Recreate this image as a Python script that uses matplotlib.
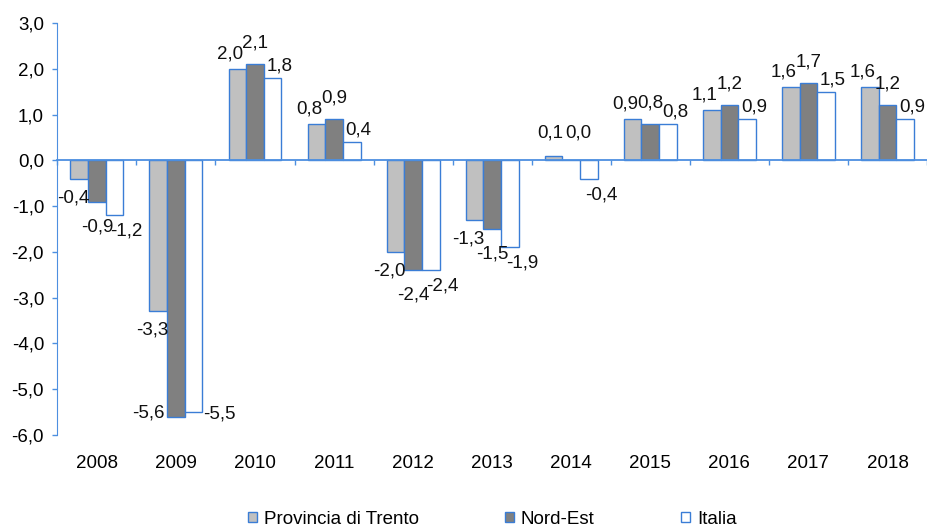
import numpy as np
import matplotlib
matplotlib.use('Agg')
import matplotlib.pyplot as plt
from matplotlib.transforms import blended_transform_factory

plt.rcParams['font.family'] = ['Liberation Sans', 'DejaVu Sans']
plt.rcParams['font.size'] = 13.5

years = ['2008', '2009', '2010', '2011', '2012', '2013', '2014', '2015', '2016', '2017', '2018']
series_names = ['Provincia di Trento', 'Nord-Est', 'Italia']
trento = [-0.4, -3.3, 2.0, 0.8, -2.0, -1.3, 0.1, 0.9, 1.1, 1.6, 1.6]
nord_est = [-0.9, -5.6, 2.1, 0.9, -2.4, -1.5, 0.0, 0.8, 1.2, 1.7, 1.2]
italia = [-1.2, -5.5, 1.8, 0.4, -2.4, -1.9, -0.4, 0.8, 0.9, 1.5, 0.9]
y_ticks = [-6, -5, -4, -3, -2, -1, 0, 1, 2, 3]

fills = ['#c0c0c0', '#808080', '#ffffff']
edge = '#3a7dd6'
axis_col = '#4d8fe0'

# label offsets in pixels (dx, dy) by series, for positive / negative bars
pos_off = [(-7, 15), (0, 21), (7, 12)]
neg_off = [(-6, -19), (0, -25), (12, -16)]
special = {(1, 1): (-28, 4), (1, 2): (26, -2), (6, 0): (-3, 23), (6, 1): (7, 27)}

fig = plt.figure(figsize=(9.27, 5.27), dpi=100)
ax = fig.add_axes([57.35 / 927, 1 - 435 / 527, 1 - 57.35 / 927, (435 - 23) / 527])

x = np.arange(len(years))
w = 0.223
all_vals = [trento, nord_est, italia]
for k, vals in enumerate(all_vals):
    ax.bar(x + (k - 1) * w, vals, w, color=fills[k], edgecolor=edge, linewidth=1.0,
           label=series_names[k], zorder=2)
    for i, v in enumerate(vals):
        dx, dy = pos_off[k] if v >= 0 else neg_off[k]
        if (i, k) in special:
            dx, dy = special[(i, k)]
        txt = ('%.1f' % v).replace('.', ',')
        ax.annotate(txt, (x[i] + (k - 1) * w, v), xytext=(dx, dy), textcoords='offset pixels',
                    ha='center', va='center', fontsize=13.5, color='#111111', zorder=3)

ax.set_xlim(-0.5, 10.467)
ax.set_ylim(-6, 3)
ax.set_yticks(y_ticks)
ax.set_yticklabels([('%.1f' % t).replace('.', ',') for t in y_ticks])
ax.tick_params(axis='y', length=3.6, width=1, color=axis_col, pad=6, labelsize=13.5)

for s in ['top', 'right']:
    ax.spines[s].set_visible(False)
ax.spines['left'].set_color(axis_col)
ax.spines['bottom'].set_color(axis_col)
ax.spines['bottom'].set_linewidth(1.3)
ax.spines['bottom'].set_position(('data', 0))
ax.spines['bottom'].set_zorder(4)
ax.set_xticks(np.arange(len(years) + 1) - 0.5)
ax.set_xticklabels([])
ax.tick_params(axis='x', length=3.5, width=1, color=axis_col, direction='out')

tr = blended_transform_factory(ax.transData, ax.transAxes)
for i, yr in enumerate(years):
    ax.text(x[i], -28 / 412, yr, transform=tr, ha='center', va='center', fontsize=13.5)

leg = ax.legend(loc='center', bbox_to_anchor=(0.5, -84 / 412), ncol=3, frameon=False,
                handlelength=0.5, handleheight=0.45, handletextpad=0.35, columnspacing=4.6,
                fontsize=13.5)

fig.savefig('out.png', dpi=100)
